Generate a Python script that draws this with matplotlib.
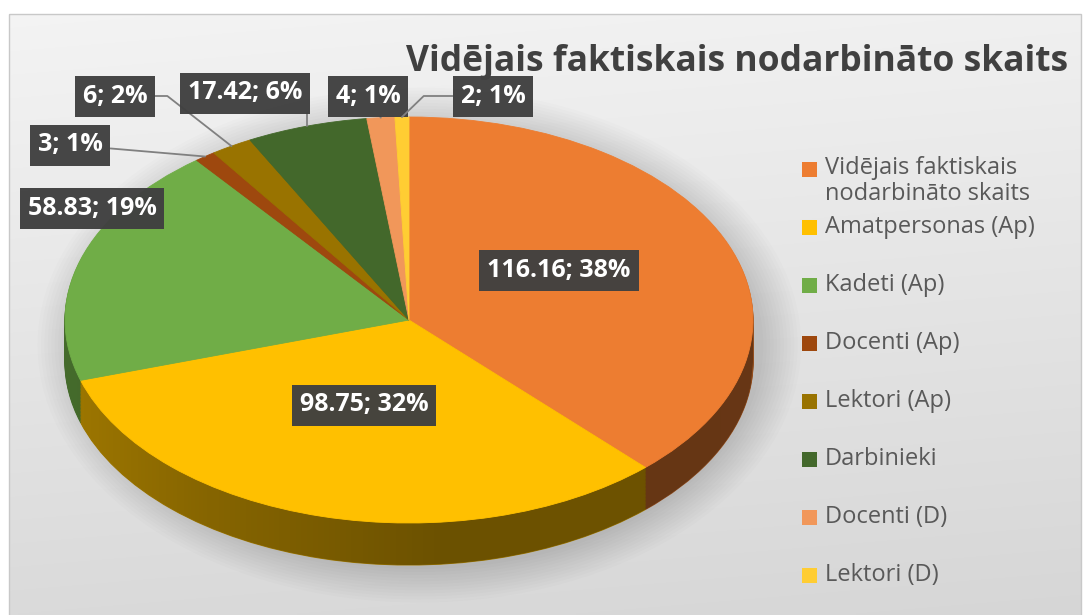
import numpy as np
import matplotlib.pyplot as plt
from matplotlib.patches import Rectangle, Ellipse, PathPatch
from matplotlib.path import Path
from matplotlib.colors import to_rgb

plt.rcParams['font.family'] = ['Open Sans', 'DejaVu Sans']

# data
title = 'Vidējais faktiskais nodarbināto skaits'
labels = ['Vidējais faktiskais\nnodarbināto skaits', 'Amatpersonas (Ap)', 'Kadeti (Ap)',
          'Docenti (Ap)', 'Lektori (Ap)', 'Darbinieki', 'Docenti (D)', 'Lektori (D)']
values = [116.16, 98.75, 58.83, 3, 6, 17.42, 4, 2]
colors = ['#ED7D31', '#FFC000', '#70AD47', '#9E480E', '#997300', '#43682B', '#F1975A', '#FFCD33']

W, H = 1084, 615
fig = plt.figure(figsize=(W / 100, H / 100), dpi=100)
fig.patch.set_facecolor('white')

# background axes in pixel coords
bg = fig.add_axes([0, 0, 1, 1])
bg.set_xlim(0, W)
bg.set_ylim(H, 0)
bg.axis('off')
yy, xx = np.mgrid[0:1:200j, 0:1:300j]
grad = 0.955 - 0.10 * yy - 0.015 * xx
bg.imshow(np.dstack([grad] * 3), extent=(9, 1081, 615, 14), aspect='auto',
          interpolation='bilinear', zorder=0)
bg.add_patch(Rectangle((9, 14), 1072, 610, fill=False, edgecolor='#c8c8c8', lw=1, zorder=1))

# pie geometry (pixels)
cx, cy, rx, ry, depth = 409, 320, 344, 203, 42
d = depth / ry
ax = fig.add_axes([(cx - rx) / W, (H - (cy + ry + depth)) / H, 2 * rx / W, (2 * ry + depth) / H])

# soft shadow
for i in range(12):
    ax.add_patch(Ellipse((0.03, -d * 0.5 - 0.02), 2.0 + 0.02 * i, 2.0 + d + 0.03 * i,
                         facecolor='black', alpha=0.012, lw=0, clip_on=False, zorder=0))

# side of the 3d pie: stacked darker copies
side_colors = [tuple(c * 0.62 for c in to_rgb(col)) for col in colors]
n = 30
for k in range(n, 0, -1):
    ax.pie(values, colors=side_colors, startangle=90, counterclock=False,
           center=(0, -d * k / n), frame=True,
           wedgeprops=dict(linewidth=0.8, edgecolor=None))
for p in ax.patches:
    if p.get_zorder() != 0:
        p.set_edgecolor(p.get_facecolor())

# gradient darkening on the side band
xs = np.linspace(-1, 1, 300)
top_edge = -np.sqrt(1 - xs ** 2)
verts = np.concatenate([np.column_stack([xs, top_edge]),
                        np.column_stack([xs[::-1], top_edge[::-1] - d])])
band = PathPatch(Path(verts, closed=True), transform=ax.transData, facecolor='none', lw=0)
ax.add_patch(band)
alpha_row = np.interp(np.linspace(-1, 1, 300), [-1, -0.6, 0.1, 1], [0.0, 0.15, 0.32, 0.3])
shade = np.zeros((10, 300, 4))
shade[..., 3] = alpha_row
im = ax.imshow(shade, extent=(-1, 1, -1 - d, 0), aspect='auto', zorder=3)
im.set_clip_path(band)

# top face
wedges, _ = ax.pie(values, colors=colors, startangle=90, counterclock=False, frame=True,
                   wedgeprops=dict(linewidth=0.6))
for w in wedges:
    w.set_edgecolor(w.get_facecolor())
    w.set_zorder(4)

ax.set_aspect('auto')
ax.set_xlim(-1, 1)
ax.set_ylim(-1 - d, 1)
ax.axis('off')

# overlay for labels, legend, title
ov = fig.add_axes([0, 0, 1, 1])
ov.set_xlim(0, W)
ov.set_ylim(H, 0)
ov.axis('off')

ov.text(1068, 62, title, ha='right', va='center', fontsize=25.5, fontweight='bold', color='#404040')

total = sum(values)
label_pos = [(559, 270), (364, 405), (92, 208), (70, 145), (115, 96), (245, 93), (368, 96), (493, 96)]
leader = [None, None, None, 'arc3', 'angle,angleA=0,angleB=-38', 'angle,angleA=0,angleB=90',
          'arc3', 'angle,angleA=0,angleB=44']
for i, (v, w) in enumerate(zip(values, wedges)):
    txt = '%g; %d%%' % (v, round(100 * v / total))
    mid = np.deg2rad((w.theta1 + w.theta2) / 2)
    box = dict(boxstyle='square,pad=0.32', facecolor='#404040', edgecolor='none', alpha=0.97)
    if leader[i]:
        ov.annotate(txt, xy=(np.cos(mid), np.sin(mid)), xycoords=ax.transData,
                    xytext=label_pos[i], textcoords='data', ha='center', va='center',
                    fontsize=18, color='white', fontweight='bold', bbox=box,
                    arrowprops=dict(arrowstyle='-', color='#808080', lw=1.3,
                                    shrinkA=0, shrinkB=0, connectionstyle=leader[i]))
    else:
        ov.text(*label_pos[i], txt, ha='center', va='center', fontsize=18,
                color='white', fontweight='bold', bbox=box)

# legend
leg_y = [181] + [227 + 58 * j for j in range(len(labels) - 1)]
for i, lab in enumerate(labels):
    my = 169 if i == 0 else leg_y[i]
    ov.add_patch(Rectangle((802, my - 7.5), 15, 15, facecolor=colors[i], edgecolor='none'))
    ov.text(825, leg_y[i], lab, ha='left', va='center', fontsize=17, color='#595959',
            linespacing=1.12)

fig.savefig('out.png', dpi=100)
